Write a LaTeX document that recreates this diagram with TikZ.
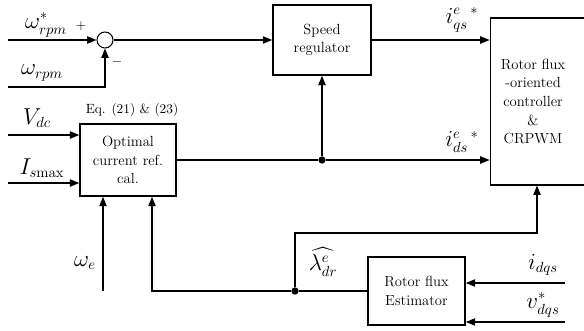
\documentclass[tikz,border=0pt]{standalone}
\usepackage{amsmath,amssymb}
\usepackage{tikz}
\usetikzlibrary{positioning,arrows.meta,calc}

\begin{document}
\begin{tikzpicture}[x=0.75pt,y=-0.75pt,
  blk/.style={rectangle,draw,line width=1.2pt,inner sep=0pt,align=center,
    font=\fontsize{11}{14}\selectfont},
  lbl/.style={font=\fontsize{16}{18}\selectfont,inner sep=0pt},
  sig/.style={-{Triangle[length=7pt,width=5.5pt]},line width=0.8pt},
  wire/.style={line width=0.8pt},
  dot/.style={circle,fill,inner sep=0pt,minimum size=5.5pt}
]
\useasboundingbox (0,0) rectangle (584,331);

% blocks
\node[circle,draw,line width=0.8pt,minimum size=12pt,inner sep=0pt] (sum) at (105,40) {};
\node[blk,minimum width=73.5pt,minimum height=52.5pt] (speed) at (322,40) {Speed\\regulator};
\node[blk,minimum width=76pt,minimum height=125pt] (rfoc) at (541,101.5) {};
\node[font=\fontsize{11}{14}\selectfont,align=center] (rfoctxt) at (533,101.5) {Rotor flux\\-oriented\\controller\\\&\\CRPWM};
\node[blk,minimum width=72pt,minimum height=54pt] (opt) at (128,160) {Optimal\\current ref.\\cal.};
\node[blk,minimum width=72.75pt,minimum height=51pt] (est) at (416.5,291) {Rotor flux\\Estimator};

% branch points and free ends
\node[dot] (dotids) at (322,160) {};
\node[dot] (dotlam) at (295,291) {};
\coordinate (wref) at (8,40);
\coordinate (wfb) at (8,87);
\coordinate (vdc) at (8,135);
\coordinate (ismax) at (8,183);
\coordinate (we) at (103,291);
\coordinate (lamup) at (295,233);
\coordinate (idqs) at (565,283);
\coordinate (vdqs) at (565,322);

% labels
\node[lbl] (lwref) at (46,25) {$\omega^{*}_{rpm}$};
\node[lbl] (lwfb) at (42,73) {$\omega_{rpm}$};
\node (plus) at (81,26) {$+$};
\node (minus) at (117,62) {$-$};
\node[lbl] (lvdc) at (37,118) {$V_{dc}$};
\node[lbl] (lismax) at (42,168) {$I_{s\mathrm{max}}$};
\node[font=\fontsize{10}{12}\selectfont] (leq) at (132,110) {Eq. (21) \& (23)};
\node[lbl] (lwe) at (85,263) {$\omega_{e}$};
\node[lbl] (liqs) at (462,20) {$i^{e}_{qs}{}^{\,*}$};
\node[lbl] (lids) at (462,142) {$i^{e}_{ds}{}^{\,*}$};
\node[lbl] (llam) at (323,262) {$\widehat{\lambda^{e}_{dr}}$};
\node[lbl] (lidqs) at (543,265) {$i_{dqs}$};
\node[lbl] (lvdqs) at (543,305) {$v^{*}_{dqs}$};

% connectors
\draw[sig] (wref) -- (sum);
\draw[sig] (wfb) -| (sum);
\draw[sig] (sum) -- (speed);
\draw[sig] (speed.east) -- (speed.east -| rfoc.west);
\draw[sig] (vdc) -- (vdc -| opt.west);
\draw[sig] (ismax) -- (ismax -| opt.west);
\draw[wire] (opt.east) -- (dotids);
\draw[sig] (dotids) -- (opt.east -| rfoc.west);
\draw[sig] (dotids) -- (speed);
\draw[sig] (we) -- (opt.south -| we);
\draw[sig] (dotlam) -| ($(opt.south)+(24,0)$);
\draw[wire] (est) -- (dotlam);
\draw[sig] (dotlam) -- (lamup) -| ($(rfoc.south)+(-4,0)$);
\draw[sig] (idqs) -- (idqs -| est.east);
\draw[sig] (vdqs) -- (vdqs -| est.east);
\end{tikzpicture}
\end{document}
